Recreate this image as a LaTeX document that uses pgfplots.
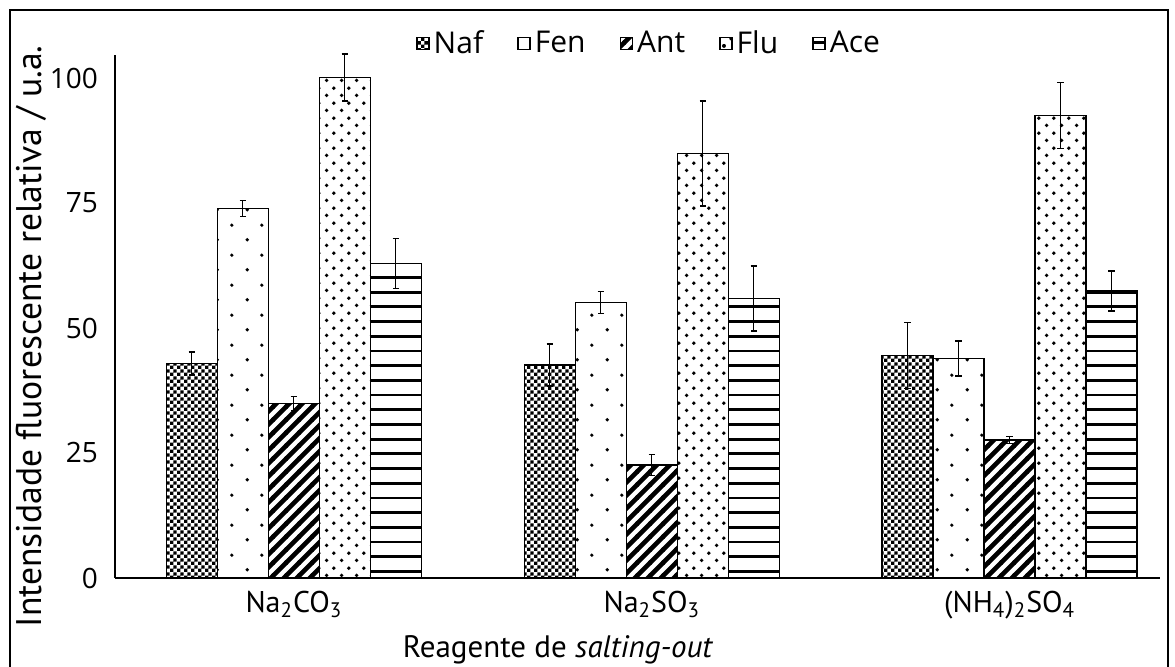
\documentclass[border=0pt]{standalone}
\usepackage{fontspec}
\setmainfont{Open Sans}
\newfontfamily\ptsans{PT Sans}
\usepackage{pgfplots}
\usepackage{pgfplotstable}
\pgfplotsset{compat=1.18}
\usetikzlibrary{patterns}

\pgfdeclarepatternformonly{checker}{\pgfqpoint{0pt}{0pt}}{\pgfqpoint{3.4pt}{3.4pt}}{\pgfqpoint{3.4pt}{3.4pt}}{%
 \pgfpathrectangle{\pgfqpoint{0pt}{0pt}}{\pgfqpoint{1.7pt}{1.7pt}}%
 \pgfpathrectangle{\pgfqpoint{1.7pt}{1.7pt}}{\pgfqpoint{1.7pt}{1.7pt}}%
 \pgfusepath{fill}}
\pgfdeclarepatternformonly{sparsedots}{\pgfqpoint{0pt}{0pt}}{\pgfqpoint{15pt}{15pt}}{\pgfqpoint{15pt}{15pt}}{%
 \pgfpathcircle{\pgfqpoint{3.75pt}{3.75pt}}{0.95pt}%
 \pgfpathcircle{\pgfqpoint{11.25pt}{11.25pt}}{0.95pt}%
 \pgfusepath{fill}}
\pgfdeclarepatternformonly{densedots}{\pgfqpoint{0pt}{0pt}}{\pgfqpoint{7.35pt}{7.35pt}}{\pgfqpoint{7.35pt}{7.35pt}}{%
 \pgfpathcircle{\pgfqpoint{1.84pt}{1.84pt}}{1pt}%
 \pgfpathcircle{\pgfqpoint{5.51pt}{5.51pt}}{1pt}%
 \pgfusepath{fill}}
\pgfdeclarepatternformonly{thickstripes}{\pgfqpoint{-1pt}{-1pt}}{\pgfqpoint{7.5pt}{7.5pt}}{\pgfqpoint{6.5pt}{6.5pt}}{%
 \pgfsetlinewidth{2.3pt}%
 \pgfpathmoveto{\pgfqpoint{-1pt}{-1pt}}\pgfpathlineto{\pgfqpoint{7.5pt}{7.5pt}}%
 \pgfusepath{stroke}}
\pgfdeclarepatternformonly{hlines}{\pgfqpoint{-1pt}{0pt}}{\pgfqpoint{8pt}{7.35pt}}{\pgfqpoint{7.35pt}{7.35pt}}{%
 \pgfsetlinewidth{1.4pt}%
 \pgfpathmoveto{\pgfqpoint{-1pt}{3.675pt}}\pgfpathlineto{\pgfqpoint{8pt}{3.675pt}}%
 \pgfusepath{stroke}}

\pgfplotstableread{
x y e
0 42.9 2.3
1 42.6 4.2
2 44.5 6.6
}\naf
\pgfplotstableread{
x y e
0 73.9 1.6
1 55.1 2.2
2 43.9 3.5
}\fen
\pgfplotstableread{
x y e
0 34.9 1.4
1 22.6 2.1
2 27.6 0.7
}\ant
\pgfplotstableread{
x y e
0 100.1 4.7
1 84.9 10.5
2 92.5 6.6
}\flu
\pgfplotstableread{
x y e
0 62.9 5.0
1 55.9 6.5
2 57.4 4.0
}\ace

\begin{document}
\begin{tikzpicture}
\path[use as bounding box] (-57.5pt,-44.5pt) rectangle (530pt,289pt);
\draw[line width=1pt] (-52.5pt,-60pt) -- (-52.5pt,284pt) -- (526.5pt,284pt) -- (526.5pt,-60pt);
\begin{axis}[
 scale only axis, width=522.5pt, height=261.5pt,
 xmin=-0.5, xmax=2.42, ymin=0, ymax=104.6,
 ybar=0pt, bar width=25.5pt,
 axis x line=bottom, axis y line=left,
 axis line style={line width=1pt,-},
 xtick={0,1,2},
 xticklabels={Na\textsubscript{2}CO\textsubscript{3}, Na\textsubscript{2}SO\textsubscript{3}, (NH\textsubscript{4})\textsubscript{2}SO\textsubscript{4}},
 ytick={0,25,50,75,100},
 major tick length=0pt,
 /pgf/number format/assume math mode=true,
 yticklabel style={font=\fontsize{14}{16}\selectfont, xshift=-5pt},
 xticklabel style={font=\ptsans\fontsize{15}{18}\selectfont, yshift=-3pt},
 xlabel={Reagente de \textit{salting-out}},
 xlabel style={font=\ptsans\fontsize{15.5}{18}\selectfont, at={(axis description cs:0.424,0)}, anchor=north, yshift=-25pt},
 ylabel={Intensidade fluorescente relativa / u.a.},
 ylabel style={font=\ptsans\fontsize{17.8}{20}\selectfont, at={([xshift=-42pt]axis description cs:0,0.462)}, anchor=center},
 clip=false,
 legend style={at={(0.512,1)}, anchor=south, yshift=-5pt, legend columns=5, draw=none, fill=none,
   font=\fontsize{15}{17}\selectfont, /tikz/every even column/.append style={column sep=15pt}},
 legend image code/.code={\draw[#1, line width=0.8pt] (0pt,-3pt) rectangle (6pt,3pt);},
 error bars/y dir=both, error bars/y explicit,
 error bars/error bar style={line width=0.5pt, black},
 error bars/error mark options={rotate=90, mark size=1.6pt, line width=0.9pt, black},
]
\addplot[draw=black, line width=0.75pt, pattern=checker] table[x=x, y=y, y error=e]{\naf};
\addplot[draw=black, line width=0.75pt, pattern=sparsedots] table[x=x, y=y, y error=e]{\fen};
\addplot[draw=black, line width=0.75pt, pattern=thickstripes] table[x=x, y=y, y error=e]{\ant};
\addplot[draw=black, line width=0.75pt, pattern=densedots] table[x=x, y=y, y error=e]{\flu};
\addplot[draw=black, line width=0.75pt, pattern=hlines] table[x=x, y=y, y error=e]{\ace};
\legend{Naf, Fen, Ant, Flu, Ace}
\end{axis}
\end{tikzpicture}
\end{document}
